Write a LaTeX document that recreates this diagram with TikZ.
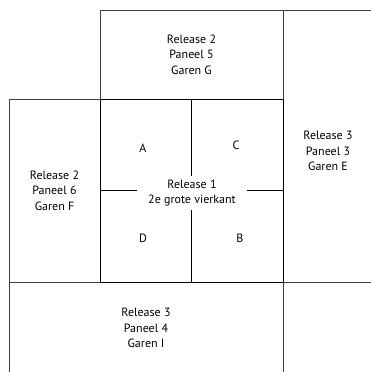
\documentclass[tikz,border=0pt]{standalone}
\usepackage{fontspec}
\setmainfont{PT Sans}
\usetikzlibrary{positioning}
\tikzset{
    panel/.style={draw=black!75, line width=0.9pt, align=center, inner sep=0pt, outer sep=0pt},
    square/.style={draw=black, line width=0.9pt, inner sep=0pt, outer sep=0pt},
    hide/.style={draw=none, fill=none},
    inner/.style={draw=black, line width=1.1pt},
}
\begin{document}
\begin{tikzpicture}[x=1pt, y=1pt, node distance=0pt,
    every node/.append style={font=\fontsize{12}{15.5}\selectfont}]
    \useasboundingbox (0,0) rectangle (371,372);
    \clip (0,0) rectangle (371,372);

    % the panels around the square
    \node[panel, minimum width=183pt, minimum height=183pt] at (191.5,181.5) (c0) {};
    \node[panel, minimum width=183pt, minimum height=89pt, above=of c0] (p5) {Release 2\\Paneel 5\\Garen G};
    \node[panel, minimum width=91pt, minimum height=183pt, left=of c0] (p6) {Release 2\\Paneel 6\\Garen F};
    \node[panel, minimum width=90pt, minimum height=272pt, anchor=south west] at (c0.south east) (p3) {};
    \node[hide, align=center] at ([yshift=-5pt]p3.center) (t3) {Release 3\\Paneel 3\\Garen E};
    \node[panel, minimum width=274pt, minimum height=92pt, anchor=north east] at (c0.south east) (p4) {Release 3\\Paneel 4\\Garen I};
    \node[panel, minimum width=90pt, minimum height=92pt, anchor=north west] at (c0.south east) (pe) {};

    % the square itself
    \node[square, minimum width=183pt, minimum height=183pt] at (191.5,181.5) (c) {};
    \node[hide, align=center, minimum width=110pt, minimum height=34pt, inner sep=0pt] at (192,179) (mid) {Release 1\\2e grote vierkant};

    \draw[inner] (c.west) -- (c.west -| mid.west);
    \draw[inner] (c.east) -- (c.east -| mid.east);
    \draw[inner] (c.north) -- (c.north |- mid.north);
    \draw[inner] (c.south) -- (c.south |- mid.south);

    \node at (143,224) (a) {A};
    \node at (236,227) (cc) {C};
    \node at (143,134) (d) {D};
    \node at (240,134) (b) {B};
\end{tikzpicture}
\end{document}
